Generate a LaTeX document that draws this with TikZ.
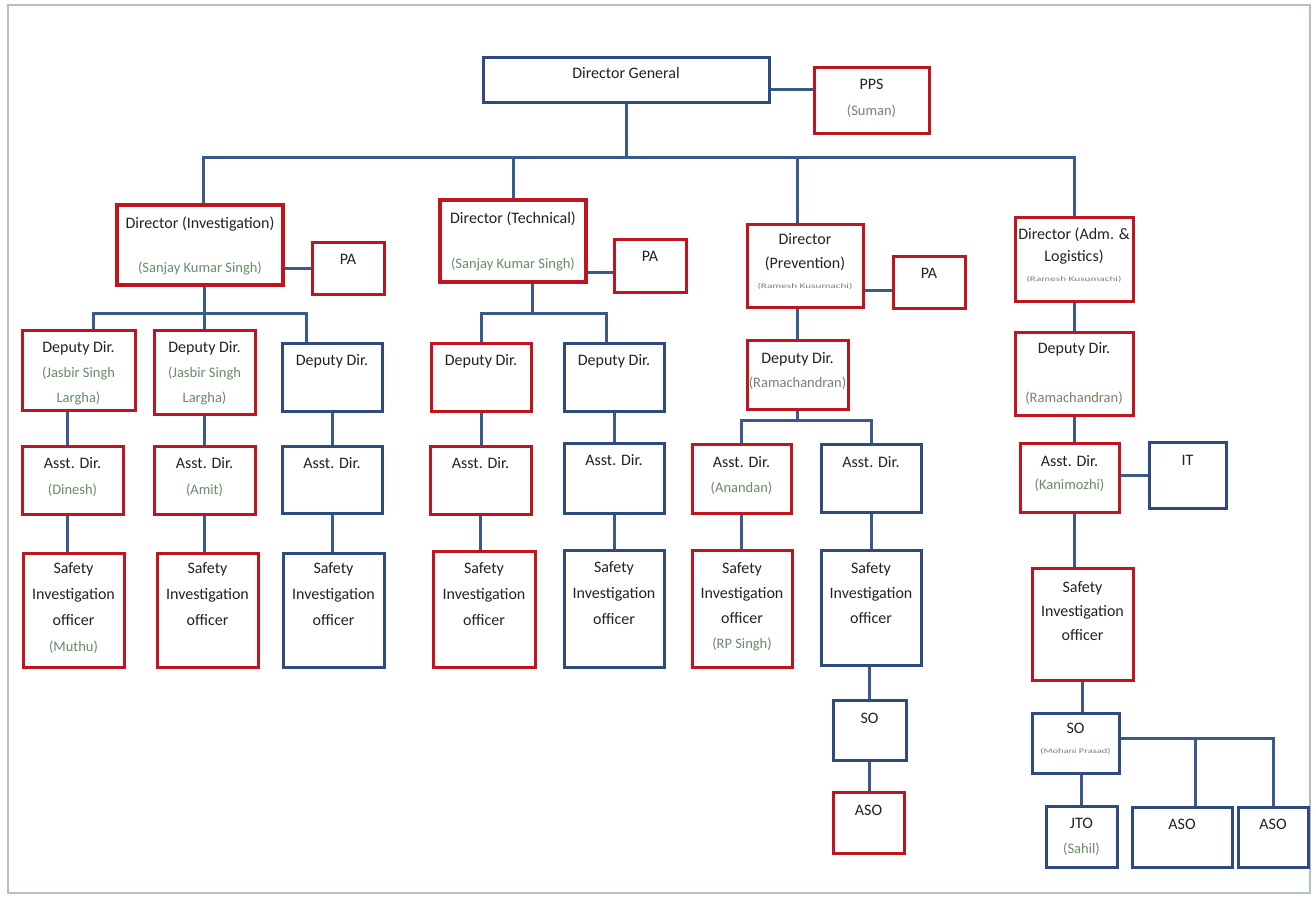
\documentclass[tikz,border=0pt]{standalone}
\usepackage{fontspec}
\usepackage{graphicx}
\setmainfont{Carlito}
\usetikzlibrary{calc,backgrounds}
\definecolor{bred}{HTML}{C0141E}
\definecolor{bblue}{HTML}{2E4A80}
\definecolor{cline}{HTML}{3A5A8C}
\definecolor{nmc}{HTML}{6A8A6A}
\definecolor{txc}{HTML}{222222}
\definecolor{framec}{HTML}{B3BFCC}
\newcommand\nmx[1]{{\color{nmc}\fontsize{14.5}{26}\selectfont #1}}
\newcommand\tnx[2]{{\color{nmc}\fontsize{7}{20}\selectfont\scalebox{#1}[1]{#2}}}
\newcommand\ob[8]{%
  \node[#2, anchor=north west, minimum width={#5pt-#3pt}, minimum height={#6pt-#4pt}] (#1) at (#3,#4) {};
  \node[txt, anchor=north] (#1-t) at ($(#1.north)+(0,#7)$) {\rule{0pt}{11pt}#8};
}
\tikzset{
  box/.style={draw, fill=white, rectangle, line width=3pt, outer sep=0pt, inner sep=0pt},
  rbox/.style={box, draw=bred},
  rthick/.style={box, draw=bred, line width=4.5pt},
  bbox/.style={box, draw=bblue},
  txt/.style={font=\fontsize{16}{26}\selectfont, text=txc, align=center, inner sep=0pt},
  conn/.style={draw=cline, line width=3pt},
}
\begin{document}
\begin{tikzpicture}[x=1pt,y=-1pt]
\useasboundingbox (0,0) rectangle (1316,898);
\draw[framec, line width=2pt] (8,5) rectangle (1310,893);

\ob{dg}{bbox}{483}{57}{769}{102}{10}{Director General}
\ob{pps}{rbox}{814}{67}{929}{133}{11}{PPS\\\nmx{(Suman)}}
\ob{dinv}{rthick}{117}{205}{283}{285}{12}{Director (Investigation)\\[18pt]\nmx{(Sanjay Kumar Singh)}}
\ob{pa1}{rbox}{312}{242}{384}{294}{11}{PA}
\ob{dtech}{rthick}{440}{200}{586}{282}{12}{Director (Technical)\\[19pt]\nmx{(Sanjay Kumar Singh)}}
\ob{pa2}{rbox}{614}{239}{686}{292}{11}{PA}
\ob{dprev}{rbox}{747}{224}{863}{307}{9}{Director\\[-2pt](Prevention)\\[-6pt]\tnx{1.6}{(Ramesh Kusumachi)}}
\ob{pa3}{rbox}{893}{256}{965}{308}{11}{PA}
\ob{dadm}{rbox}{1015}{217}{1133}{301}{11}{Director (Adm. \&\\[-4pt]Logistics)\\[-6pt]\tnx{1.6}{(Ramesh Kusumachi)}}

\ob{dd1}{rbox}{22}{330}{135}{410}{11}{Deputy Dir.\\[-1pt]\nmx{(Jasbir Singh}\\[-1pt]\nmx{Largha)}}
\ob{dd2}{rbox}{154}{330}{255}{414}{11}{Deputy Dir.\\[-1pt]\nmx{(Jasbir Singh}\\[-1pt]\nmx{Largha)}}
\ob{dd3}{bbox}{282}{343}{382}{411}{11}{Deputy Dir.}
\ob{dd4}{rbox}{431}{343}{531}{411}{11}{Deputy Dir.}
\ob{dd5}{bbox}{564}{343}{664}{411}{11}{Deputy Dir.}
\ob{dd6}{rbox}{747}{340}{848}{409}{12}{Deputy Dir.\\[-2pt]\nmx{(Ramachandran)}}
\ob{dd7}{rbox}{1015}{332}{1133}{415}{10}{Deputy Dir.\\[23pt]\nmx{(Ramachandran)}}

\ob{ad1}{rbox}{22}{446}{123}{514}{11}{Asst. Dir.\\\nmx{(Dinesh)}}
\ob{ad2}{rbox}{154}{446}{255}{514}{11}{Asst. Dir.\\\nmx{(Amit)}}
\ob{ad3}{bbox}{282}{446}{382}{513}{11}{Asst. Dir.}
\ob{ad4}{rbox}{430}{446}{531}{514}{11}{Asst. Dir.}
\ob{ad5}{bbox}{564}{443}{664}{513}{11}{Asst. Dir.}
\ob{ad6}{rbox}{692}{444}{791}{513}{12}{Asst. Dir.\\[-1pt]\nmx{(Anandan)}}
\ob{ad7}{bbox}{821}{444}{921}{512}{12}{Asst. Dir.}
\ob{ad8}{rbox}{1020}{443}{1119}{512}{12}{Asst. Dir.\\[-3pt]\nmx{(Kanimozhi)}}
\ob{it}{bbox}{1149}{442}{1226}{508}{12}{IT}

\ob{s1}{rbox}{23}{553}{124}{667}{9}{Safety\\Investigation\\officer\\\nmx{(Muthu)}}
\ob{s2}{rbox}{157}{553}{258}{667}{9}{Safety\\Investigation\\officer}
\ob{s3}{bbox}{283}{553}{384}{667}{9}{Safety\\Investigation\\officer}
\ob{s4}{rbox}{433}{551}{535}{667}{11}{Safety\\Investigation\\officer}
\ob{s5}{bbox}{564}{550}{664}{667}{11}{Safety\\Investigation\\officer}
\ob{s6}{rbox}{692}{550}{792}{667}{12}{Safety\\[-1pt]Investigation\\[-1pt]officer\\[-1pt]\nmx{(RP Singh)}}
\ob{s7}{bbox}{821}{550}{921}{665}{12}{Safety\\[-1pt]Investigation\\[-1pt]officer}
\ob{s8}{rbox}{1032}{568}{1133}{680}{13}{Safety\\[-2pt]Investigation\\[-2pt]officer}

\ob{so1}{bbox}{833}{700}{906}{760}{12}{SO}
\ob{aso1}{rbox}{833}{792}{904}{853}{12}{ASO}
\ob{so2}{bbox}{1032}{713}{1119}{773}{9}{SO\\[-6pt]\tnx{1.5}{(Mohani Prasad)}}
\ob{jto}{bbox}{1046}{806}{1117}{867}{11}{JTO\\[-1pt]\nmx{(Sahil)}}
\ob{aso2}{bbox}{1132}{807}{1232}{867}{11}{ASO}
\ob{aso3}{bbox}{1238}{807}{1308}{867}{11}{ASO}

\begin{scope}[on background layer]
% top level
\coordinate (bus) at (626,157);
\draw[conn] ($(dg.east)+(0,9.5)$) -- ($(pps.west)+(0,-11)$);
\draw[conn] (dg.south) -- (bus);
\coordinate (invtop) at ($(dinv.north)+(3,0)$);
\draw[conn] (invtop) |- (bus) -| (dadm.north);
\draw[conn] (dtech.north) -- (dtech.north |- bus);
\coordinate (prevtop) at ($(dprev.north)+(-8,0)$);
\draw[conn] (prevtop) -- (prevtop |- bus);
% PAs
\draw[conn] (dinv.east |- pa1.west) -- (pa1.west);
\coordinate (t2) at ($(pa2.west)+(0,7)$);
\draw[conn] (dtech.east |- t2) -- (t2);
\coordinate (t3) at ($(pa3.west)+(0,8)$);
\draw[conn] (dprev.east |- t3) -- (t3);
% investigation branch
\coordinate (ib) at ($(dinv.south)+(4,28)$);
\draw[conn] (dinv.south -| ib) -- (ib);
\coordinate (d1t) at ($(dd1.north)+(14.5,0)$);
\coordinate (d3t) at ($(dd3.north)+(-26,0)$);
\draw[conn] (d1t) |- (ib) -| (d3t);
\draw[conn] (ib) -- (ib |- dd2.north);
\coordinate (c1) at ($(ad1.north)+(-5.5,0)$);
\draw[conn] (c1 |- dd1.south) -- (c1);
\draw[conn] (c1 |- ad1.south) -- (c1 |- s1.north);
\draw[conn] (ad2.north |- dd2.south) -- (ad2.north);
\draw[conn] (ad2.south) -- (ad2.south |- s2.north);
\draw[conn] (dd3.south) -- (ad3.north);
\draw[conn] (ad3.south) -- (ad3.south |- s3.north);
% technical branch
\coordinate (tb) at ($(dtech.south)+(19,31)$);
\draw[conn] (tb |- dtech.south) -- (tb);
\coordinate (d5t) at ($(dd5.north)+(-8,0)$);
\draw[conn] (dd4.north) |- (tb) -| (d5t);
\draw[conn] (dd4.south) -- (dd4.south |- ad4.north);
\draw[conn] (ad4.south) -- (ad4.south |- s4.north);
\draw[conn] (dd5.south) -- (dd5.south |- ad5.north);
\draw[conn] (ad5.south) -- (ad5.south |- s5.north);
% prevention branch
\draw[conn] (dprev.south -| dd6.north) -- (dd6.north);
\coordinate (pb) at ($(dd6.south)+(0,11)$);
\draw[conn] (dd6.south) -- (pb);
\draw[conn] (ad6.north) |- (pb) -| (ad7.north);
\draw[conn] (ad6.south) -- (ad6.south |- s6.north);
\draw[conn] (ad7.south) -- (ad7.south |- s7.north);
\draw[conn] (so1.north |- s7.south) -- (so1.north);
\draw[conn] (so1.south) -- (so1.south |- aso1.north);
% administration branch
\draw[conn] (dadm.south) -- (dd7.north);
\draw[conn] (dd7.south) -- (dd7.south |- ad8.north);
\draw[conn] (ad8.south -| dd7.south) -- (s8.north -| dd7.south);
\draw[conn] (ad8.east |- it.west) -- (it.west);
\draw[conn] (s8.south) -- (s8.south |- so2.north);
\draw[conn] (jto.north |- so2.south) -- (jto.north);
\coordinate (sb) at ($(so2.east)+(0,-5)$);
\draw[conn] (sb) -| (aso3.north);
\coordinate (a2t) at ($(aso2.north)+(13,0)$);
\draw[conn] (a2t |- sb) -- (a2t);
\end{scope}
\end{tikzpicture}
\end{document}
